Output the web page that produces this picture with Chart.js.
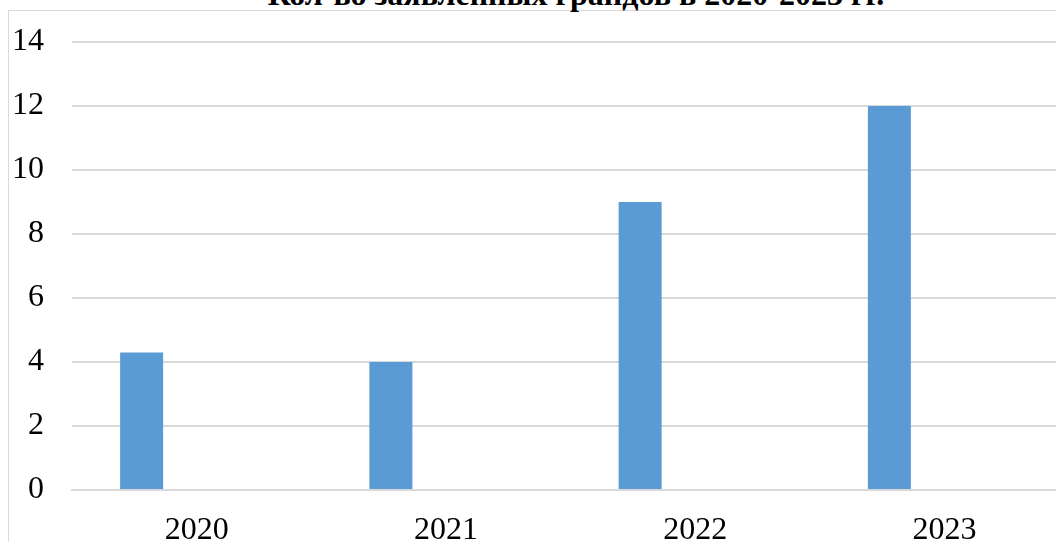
<!DOCTYPE html>
<html>
<head>
<meta charset="utf-8">
<script src="https://cdn.jsdelivr.net/npm/chart.js@4/dist/chart.umd.min.js"></script>
<style>
  html, body { margin: 0; padding: 0; background: #fff; overflow: hidden; width: 1056px; height: 542px; }
  #frame { position: absolute; left: 8px; top: 10px; width: 1200px; height: 600px; border: 1.5px solid #d9d9d9; box-sizing: border-box; }
  #title { position: absolute; left: 0; top: -22px; width: 1152px; text-align: center; font: bold 32px/32px 'Liberation Serif', 'Times New Roman', serif; color: #000; white-space: nowrap; }
  #wrap { position: absolute; left: 0; top: 0; width: 1100px; height: 580px; }
</style>
</head>
<body>
<div id="frame"></div>
<div id="title">Кол-во заявленных грандов в 2020-2023 гг.</div>
<div id="wrap"><canvas id="c"></canvas></div>
<script>
const categories = ['2020', '2021', '2022', '2023'];
const grantValues = [4.3, 4, 9, 12];
const emptySeries = [null, null, null, null];
const yMin = 0;
const yMax = 14;
const yStep = 2;

const font = { family: "'Liberation Serif', 'Times New Roman', serif", size: 32 };

new Chart(document.getElementById('c'), {
  type: 'bar',
  data: {
    labels: categories,
    datasets: [
      { label: 'Ряд 1', data: grantValues, backgroundColor: '#5b9bd5', borderWidth: 0,
        categoryPercentage: 0.8825, barPercentage: 0.391 },
      { label: 'Ряд 2', data: emptySeries, backgroundColor: '#ed7d31', borderWidth: 0,
        categoryPercentage: 0.8825, barPercentage: 0.391 }
    ]
  },
  options: {
    responsive: true,
    maintainAspectRatio: false,
    animation: false,
    layout: { padding: { top: 42, left: 0, right: 31, bottom: 0 } },
    plugins: { legend: { display: false }, title: { display: false }, tooltip: { enabled: false } },
    scales: {
      x: {
        grid: { display: false, drawTicks: false },
        border: { display: true, color: '#d9d9d9', width: 2 },
        ticks: { color: '#000', font: font, padding: 21, maxRotation: 0 },
        afterFit: s => { s.height = 90; s.paddingLeft = 0; s.paddingRight = 0; }
      },
      y: {
        min: yMin, max: yMax,
        grid: { color: '#d9d9d9', lineWidth: 2, drawTicks: false },
        border: { display: false },
        ticks: { stepSize: yStep, color: '#000', font: font, padding: 28 },
        afterFit: s => { s.width = 72; s.paddingTop = 0; s.paddingBottom = 0; }
      }
    }
  }
});
</script>
</body>
</html>
